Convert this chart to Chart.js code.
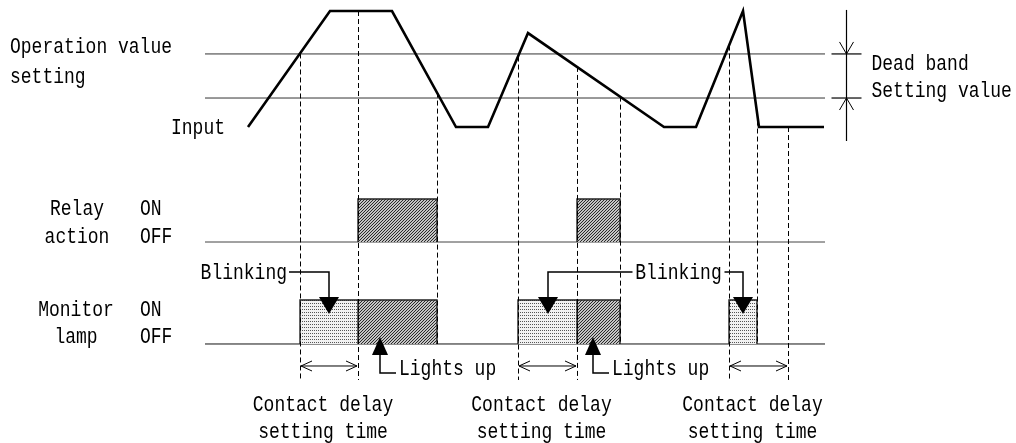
<!DOCTYPE html>
<html>
<head>
<meta charset="utf-8">
<script src="https://cdn.jsdelivr.net/npm/chart.js@4.4.1/dist/chart.umd.min.js"></script>
<style>
  html, body { margin: 0; padding: 0; background: #fff; }
  #wrap { width: 1016px; height: 443px; }
</style>
</head>
<body>
<div id="wrap"><canvas id="timing" width="1016" height="443"></canvas></div>
<script>
// ---- signal data (time units along the diagram, levels in % of input peak)
const inputTimes  = [43, 125, 187, 251, 283, 323, 459, 491, 538, 554, 619];
const inputLevels = [0, 100, 100, 0, 0, 81, 0, 0, 100, 0, 0];
const operateLevel = 63;   // operation value setting
const resetLevel = 25;     // operation value - dead band
const timeSpan = [0, 620];

const detectTimes   = [95, 313, 524];
const delayEndTimes = [153, 372, 583];
const resetTimes    = [232, 415, 552];

const relayOnStart = [153, 372];
const relayOnEnd   = [232, 415];
const blinkStart   = [95, 313, 524];
const blinkEnd     = [153, 372, 552];
const lampOnStart  = [153, 372];
const lampOnEnd    = [232, 415];

const lightsUpTimes = [175, 388];
const deadBandTime = 641;

const FONT = '18px "Liberation Mono", "DejaVu Sans Mono", monospace';

// ---- fill patterns
function makePattern(w, h, bg, fg, pixels) {
    const c = document.createElement('canvas');
    c.width = w; c.height = h;
    const g = c.getContext('2d');
    g.fillStyle = bg;
    g.fillRect(0, 0, w, h);
    g.fillStyle = fg;
    pixels.forEach(p => g.fillRect(p[0], p[1], 1, 1));
    return document.getElementById('timing').getContext('2d').createPattern(c, 'repeat');
}
const hatch = makePattern(3, 3, '#c4c4c4', '#2a2a2a', [[2, 0], [1, 1], [0, 2]]);
const dots = makePattern(2, 3, '#f2f2f2', '#555', [[0, 0]]);

function level(t0, t1, y, axis, color) {
    return {
        data: [{ x: t0, y: y }, { x: t1, y: y }],
        yAxisID: axis, borderColor: color || '#333', borderWidth: 1,
        pointRadius: 0, fill: false
    };
}

function box(t0, t1, axis, pattern) {
    return {
        data: [{ x: t0, y: 0 }, { x: t0, y: 1 }, { x: t1, y: 1 }, { x: t1, y: 0 }],
        yAxisID: axis, borderColor: '#222', borderWidth: 1.4,
        backgroundColor: pattern, fill: 'origin', pointRadius: 0
    };
}

const datasets = [];
datasets.push({
    data: inputTimes.map((t, i) => ({ x: t, y: inputLevels[i] })),
    yAxisID: 'yIn', borderColor: '#000', borderWidth: 2.6,
    pointRadius: 0, fill: false, borderJoinStyle: 'miter'
});
relayOnStart.forEach((t, i) => datasets.push(box(t, relayOnEnd[i], 'yRelay', hatch)));
blinkStart.forEach((t, i) => datasets.push(box(t, blinkEnd[i], 'yLamp', dots)));
lampOnStart.forEach((t, i) => datasets.push(box(t, lampOnEnd[i], 'yLamp', hatch)));
datasets.push(level(timeSpan[0], timeSpan[1], operateLevel, 'yIn'));
datasets.push(level(timeSpan[0], timeSpan[1], resetLevel, 'yIn'));
datasets.push(level(timeSpan[0], timeSpan[1], 0, 'yRelay', '#444'));
datasets.push(level(timeSpan[0], timeSpan[1], 0, 'yLamp', '#111'));

function inputAt(t) {
    for (let i = 0; i < inputTimes.length - 1; i++) {
        if (t >= inputTimes[i] && t <= inputTimes[i + 1]) {
            const f = (t - inputTimes[i]) / (inputTimes[i + 1] - inputTimes[i]);
            return inputLevels[i] + f * (inputLevels[i + 1] - inputLevels[i]);
        }
    }
    return inputLevels[inputLevels.length - 1];
}

// ---- annotations: labels, dashed markers, arrows
const timingNotes = {
    id: 'timingNotes',
    afterDatasetsDraw(chart) {
        const ctx = chart.ctx;
        const s = chart.scales;
        const px = t => s.x.getPixelForValue(t);
        const yIn = v => s.yIn.getPixelForValue(v);
        const relayOff = s.yRelay.getPixelForValue(0);
        const lampOff = s.yLamp.getPixelForValue(0);
        const lampOn = s.yLamp.getPixelForValue(1);

        function text(str, x, y, align) {
            ctx.save();
            ctx.font = FONT;
            ctx.fillStyle = '#000';
            ctx.textAlign = align || 'left';
            ctx.textBaseline = 'middle';
            ctx.translate(x, y);
            ctx.scale(1, 1.25);
            ctx.fillText(str, 0, 0);
            ctx.restore();
        }
        function line(pts, width, color, dash) {
            ctx.save();
            ctx.beginPath();
            ctx.strokeStyle = color || '#000';
            ctx.lineWidth = width || 1;
            ctx.setLineDash(dash || []);
            pts.forEach((p, i) => i ? ctx.lineTo(p[0], p[1]) : ctx.moveTo(p[0], p[1]));
            ctx.stroke();
            ctx.restore();
        }
        function tri(x, yBase, yTip, half) {
            ctx.save();
            ctx.beginPath();
            ctx.fillStyle = '#000';
            ctx.moveTo(x - half, yBase);
            ctx.lineTo(x + half, yBase);
            ctx.lineTo(x, yTip);
            ctx.closePath();
            ctx.fill();
            ctx.restore();
        }

        // dashed time markers
        const dash = [5, 3];
        detectTimes.concat(delayEndTimes).forEach(t => {
            line([[px(t) + 0.5, yIn(inputAt(t))], [px(t) + 0.5, lampOff + 36]], 1, '#000', dash);
        });
        resetTimes.forEach(t => {
            line([[px(t) + 0.5, yIn(inputAt(t))], [px(t) + 0.5, lampOff]], 1, '#000', dash);
        });

        // contact delay spans
        const yd = lampOff + 22;
        detectTimes.forEach((t, i) => {
            const a = px(t) + 1, b = px(delayEndTimes[i]) - 1;
            line([[a, yd], [b, yd]], 1, '#000');
            line([[a + 11, yd - 5], [a, yd], [a + 11, yd + 5]], 1, '#000');
            line([[b - 11, yd - 5], [b, yd], [b - 11, yd + 5]], 1, '#000');
            const c = (px(t) + px(delayEndTimes[i])) / 2 - 6;
            text('Contact delay', c, lampOff + 61, 'center');
            text('setting time', c, lampOff + 88, 'center');
        });

        // blinking callouts
        const yc = lampOn - 28;
        const mids = blinkStart.map((t, i) => Math.round(px((t + blinkEnd[i]) / 2)));
        text('Blinking', 287, yc + 1, 'right');
        line([[289, yc], [mids[0], yc], [mids[0], lampOn - 2]], 1.5);
        const lbl = (mids[1] + mids[2]) / 2 + 33;
        text('Blinking', lbl, yc + 1, 'center');
        line([[lbl - 46, yc], [mids[1], yc], [mids[1], lampOn - 2]], 1.5);
        line([[lbl + 46, yc], [mids[2], yc], [mids[2], lampOn - 2]], 1.5);
        mids.forEach(m => tri(m, lampOn - 3, lampOn + 14, 10));

        // lights up callouts
        lightsUpTimes.forEach(t => {
            const x = Math.round(px(t));
            tri(x, lampOff + 11, lampOff - 7, 8);
            line([[x, lampOff + 10], [x, lampOff + 29], [x + 16, lampOff + 29]], 1.5);
            text('Lights up', x + 19, lampOff + 25);
        });

        // dead band marker
        const xb = Math.round(px(deadBandTime)) + 0.5;
        const yOp = yIn(operateLevel), yRs = yIn(resetLevel);
        line([[xb, yOp - 44], [xb, yRs + 43]], 1.2);
        line([[xb - 15, yOp], [xb + 15, yOp]], 1.2);
        line([[xb - 15, yRs], [xb + 15, yRs]], 1.2);
        line([[xb - 7, yOp - 12], [xb, yOp], [xb + 7, yOp - 12]], 1);
        line([[xb - 7, yRs + 12], [xb, yRs], [xb + 7, yRs + 12]], 1);
        text('Dead band', xb + 25, yOp + 10);
        text('Setting value', xb + 25, yRs - 7);

        // row titles
        text('Operation value', 10, yOp - 7);
        text('setting', 10, yOp + 23);
        text('Input', 225, yIn(0) + 1, 'right');
        text('Relay', 77, relayOff - 33, 'center');
        text('action', 77, relayOff - 5, 'center');
        text('ON', 140, relayOff - 33);
        text('OFF', 140, relayOff - 5);
        text('Monitor', 76, lampOff - 34, 'center');
        text('lamp', 76, lampOff - 7, 'center');
        text('ON', 140, lampOff - 34);
        text('OFF', 140, lampOff - 7);
    }
};

new Chart(document.getElementById('timing'), {
    type: 'line',
    data: { datasets: datasets },
    options: {
        responsive: false,
        animation: false,
        layout: { padding: 0 },
        plugins: { legend: { display: false }, tooltip: { enabled: false } },
        scales: {
            x: { type: 'linear', min: -205, max: 811, display: false },
            yIn: { type: 'linear', min: -272.4, max: 109.5, display: false },
            yRelay: { type: 'linear', min: -4.674, max: 5.628, display: false },
            yLamp: { type: 'linear', min: -2.25, max: 7.818, display: false }
        }
    },
    plugins: [timingNotes]
});
</script>
</body>
</html>
